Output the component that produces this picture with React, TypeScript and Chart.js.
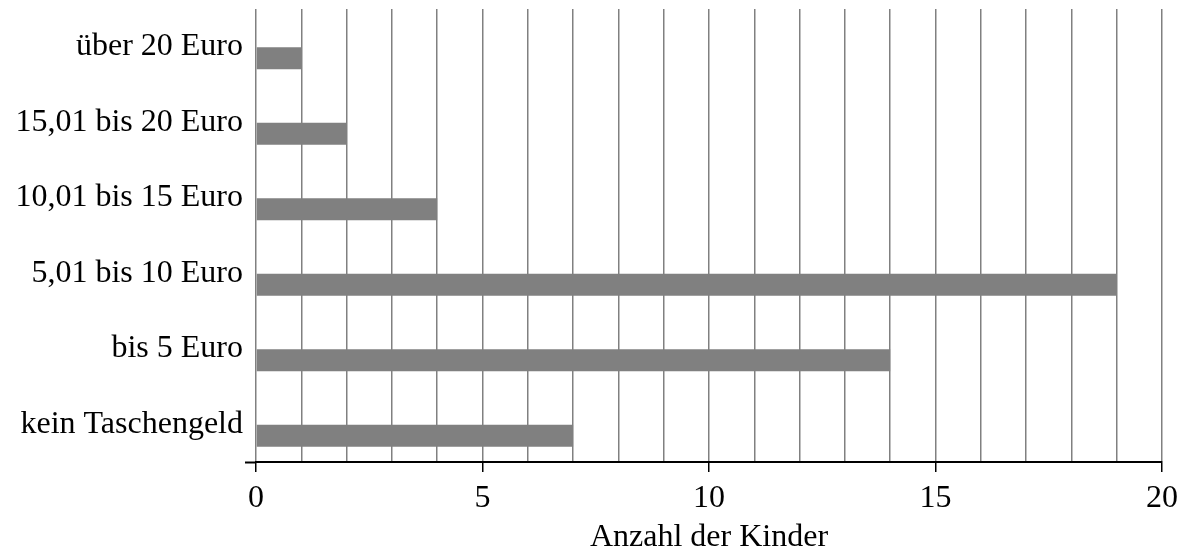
import React, { useEffect, useRef } from 'react';
import { Chart, registerables } from 'chart.js';

Chart.register(...registerables);

// Categories, top to bottom
const categories: string[] = [
  'über 20 Euro',
  '15,01 bis 20 Euro',
  '10,01 bis 15 Euro',
  '5,01 bis 10 Euro',
  'bis 5 Euro',
  'kein Taschengeld',
];

// Number of children per category
const counts: number[] = [1, 2, 4, 19, 14, 7];

// Invisible spacer series (shifts the visible bars below the label centre)
const spacer: number[] = [0, 0, 0, 0, 0, 0];

// Labelled x ticks
const xTickLabels: number[] = [0, 5, 10, 15, 20];

const xTitle = 'Anzahl der Kinder';

const FONT = '"Liberation Serif", "DejaVu Serif", serif';
const FONT_SIZE = 32;

export default function App() {
  const canvasRef = useRef<HTMLCanvasElement | null>(null);

  useEffect(() => {
    document.body.style.margin = '0';
    const canvas = canvasRef.current;
    if (!canvas) return;

    const chart = new Chart(canvas, {
      type: 'bar',
      data: {
        labels: categories,
        datasets: [
          {
            label: 'spacer',
            data: spacer,
            backgroundColor: 'rgba(0,0,0,0)',
            borderWidth: 0,
          },
          {
            label: 'Anzahl',
            data: counts,
            backgroundColor: '#808080',
            borderWidth: 0,
          },
        ],
      },
      options: {
        indexAxis: 'y',
        animation: false,
        responsive: true,
        maintainAspectRatio: false,
        datasets: {
          bar: {
            categoryPercentage: 0.61,
            barPercentage: 0.95,
          },
        },
        layout: {
          padding: { top: 9, right: 22, bottom: 0, left: 0 },
        },
        plugins: {
          legend: { display: false },
          tooltip: { enabled: false },
          title: { display: false },
        },
        scales: {
          x: {
            type: 'linear',
            min: 0,
            max: 20,
            afterFit: (scale: any) => {
              scale.height = 92;
            },
            border: { display: true, color: '#000000', width: 2 },
            grid: {
              color: '#808080',
              lineWidth: 1.5,
              drawTicks: true,
              tickLength: 10,
              tickWidth: 1.5,
              tickColor: (ctx: any) =>
                ctx.tick && xTickLabels.includes(ctx.tick.value) ? '#000000' : 'rgba(0,0,0,0)',
            },
            ticks: {
              stepSize: 1,
              autoSkip: false,
              maxRotation: 0,
              padding: 7,
              color: '#000000',
              font: { family: FONT, size: FONT_SIZE },
              callback: (v: any) => (xTickLabels.includes(Number(v)) ? String(v) : ''),
            },
            title: {
              display: true,
              text: xTitle,
              color: '#000000',
              font: { family: FONT, size: FONT_SIZE },
              padding: { top: 0, bottom: -3 },
            },
          },
          y: {
            type: 'category',
            afterFit: (scale: any) => {
              scale.width = 256;
              scale.paddingTop = 0;
              scale.paddingBottom = 0;
            },
            border: { display: false },
            grid: {
              drawOnChartArea: false,
              drawTicks: true,
              tickLength: 11,
              tickWidth: 2,
              color: 'rgba(0,0,0,0)',
              // only the closing boundary line (bottom edge, no tick attached) gets a black tick
              tickColor: (ctx: any) => (ctx.tick ? 'rgba(0,0,0,0)' : '#000000'),
            },
            ticks: {
              padding: 2,
              color: '#000000',
              font: { family: FONT, size: FONT_SIZE },
              labelOffset: 0,
            },
          },
        },
      },
    });

    return () => {
      chart.destroy();
    };
  }, []);

  return (
    <div style={{ position: 'relative', width: 1185, height: 554 }}>
      <canvas ref={canvasRef} />
    </div>
  );
}
